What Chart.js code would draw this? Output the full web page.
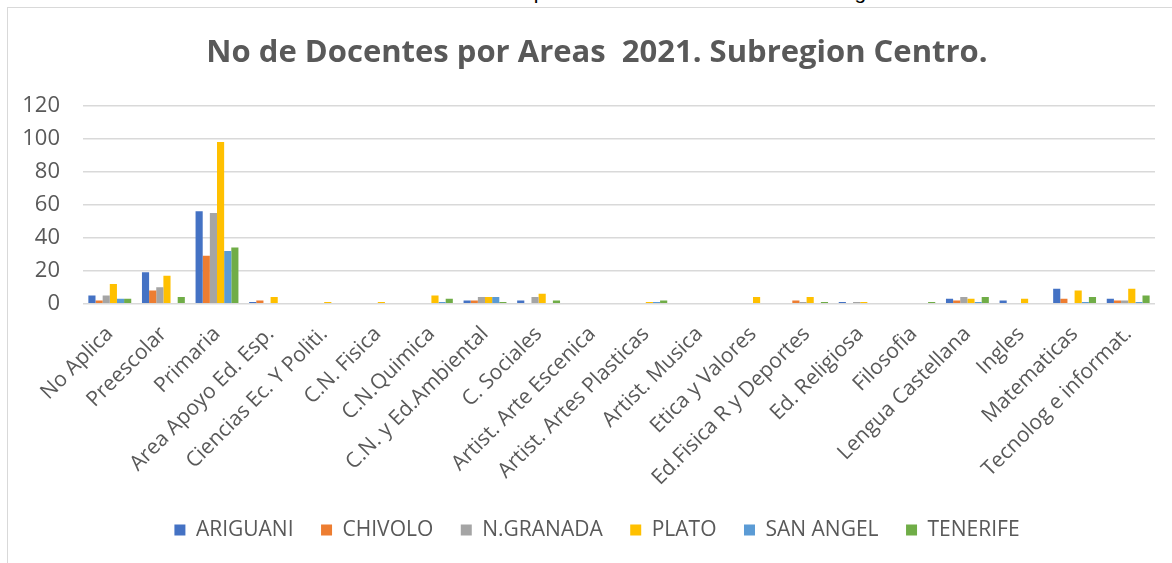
<!DOCTYPE html>
<html>
<head>
<meta charset="utf-8">
<script src="https://cdn.jsdelivr.net/npm/chart.js@4.4.1/dist/chart.umd.min.js"></script>
<style>
html,body{margin:0;padding:0;background:#fff;overflow:hidden;width:1172px;height:563px;}
#cap{position:absolute;left:15px;top:-19px;width:985px;font-size:21px;font-family:"Liberation Sans",Arial,sans-serif;line-height:22px;color:#000;text-align:justify;text-align-last:justify;}
#frame{position:absolute;left:7px;top:7px;width:1300px;height:700px;border:1px solid #d9d9d9;box-sizing:border-box;}
#c{position:absolute;left:0;top:0;}
</style>
</head>
<body>
<div id="cap">Grafica No 14. No de Docentes por Areas 2021. Subregion Centro</div>
<div id="frame"></div>
<canvas id="c" width="1200" height="563"></canvas>
<script>
const categories = ["No Aplica","Preescolar","Primaria","Area Apoyo Ed. Esp.","Ciencias Ec. Y Politi.","C.N. Fisica","C.N.Quimica","C.N. y Ed.Ambiental","C. Sociales","Artist. Arte Escenica","Artist. Artes Plasticas","Artist. Musica","Etica y Valores","Ed.Fisica R y Deportes","Ed. Religiosa","Filosofia","Lengua Castellana","Ingles","Matematicas","Tecnolog e informat."];
const seriesNames = ["ARIGUANI","CHIVOLO","N.GRANADA","PLATO","SAN ANGEL","TENERIFE"];
const ariguani = [5,19,56,1,0,0,0,2,2,0,0,0,0,0,1,0,3,2,9,3];
const chivolo  = [2,8,29,2,0,0,0,2,0,0,0,0,0,2,0,0,2,0,3,2];
const nGranada = [5,10,55,0,0,0,0,4,4,0,0,0,0,1,1,0,4,0,0,2];
const plato    = [12,17,98,4,1,1,5,4,6,0,1,0,4,4,1,0,3,3,8,9];
const sanAngel = [3,0,32,0,0,0,1,4,0,0,1,0,0,0,0,0,1,0,1,1];
const tenerife = [3,4,34,0,0,0,3,1,2,0,2,0,0,1,0,1,4,0,4,5];
const yTicks = [0,20,40,60,80,100,120];
const titleText = "No de Docentes por Areas  2021. Subregion Centro.";

const colors = ["#4472C4","#ED7D31","#A5A5A5","#FFC000","#5B9BD5","#70AD47"];
const values = [ariguani, chivolo, nGranada, plato, sanAngel, tenerife];

const datasets = seriesNames.map((n,i)=>({
  label:n, data:values[i], backgroundColor:colors[i], borderWidth:0,
  categoryPercentage:0.8, barPercentage:1.0, yAxisID:'y'
}));

new Chart(document.getElementById('c'), {
  type:'bar',
  data:{labels:categories, datasets},
  options:{
    responsive:false, animation:false,
    layout:{padding:{left:12,right:18,top:8,bottom:12.5}},
    plugins:{
      title:{display:true,text:titleText,color:'#595959',
        font:{family:'Open Sans',size:31,weight:'bold'},
        padding:{top:27,bottom:33.5}},
      legend:{position:'bottom',
        labels:{color:'#595959',font:{family:'Open Sans',size:21},boxWidth:11,boxHeight:11,padding:27.5}},
      tooltip:{enabled:false}
    },
    scales:{
      x:{
        grid:{display:false,drawTicks:false},
        border:{display:false},
        ticks:{color:'#595959',font:{family:'Open Sans',size:21},minRotation:45,maxRotation:45,autoSkip:false,padding:18},
        afterFit:(s)=>{s.height=188.3;}
      },
      y:{
        position:'left',
        min:0,max:120,
        grid:{color:'#d9d9d9',lineWidth:1.5,drawTicks:false},
        border:{display:false},
        afterBuildTicks:(s)=>{s.ticks=yTicks.map(v=>({value:v}));},
        ticks:{color:'#595959',font:{family:'Open Sans',size:22},padding:23},
        afterFit:(s)=>{s.width=71;}
      },
      yPad:{
        position:'right',display:true,min:0,max:1,
        grid:{display:false,drawTicks:false},
        border:{display:false},
        ticks:{display:false},
        afterFit:(s)=>{s.width=27;}
      }
    }
  }
});
</script>
</body>
</html>
